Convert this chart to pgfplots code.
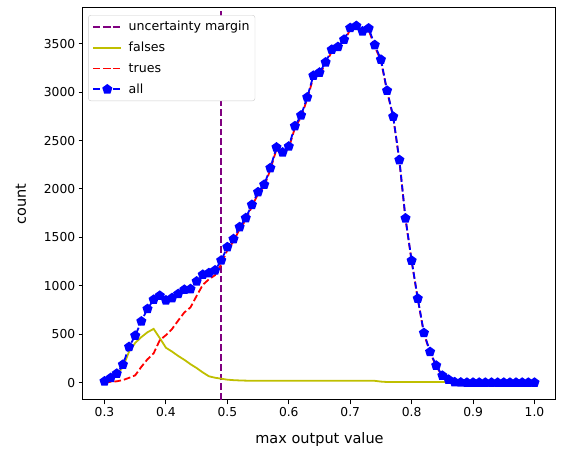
\documentclass[border=0pt]{standalone}
\usepackage{pgfplots}
\usepackage{pgfplotstable}
\pgfplotsset{compat=1.18}
\usepackage{fontspec}
\setmainfont{DejaVu Sans}
\definecolor{mplyellow}{rgb}{0.75,0.75,0}
\definecolor{mplpurple}{rgb}{0.5,0,0.5}
\pgfplotstableread{
x all falses trues
0.30 13 10 3
0.31 48 40 8
0.32 93 80 13
0.33 186 160 26
0.34 369 320 49
0.35 485 410 75
0.36 633 470 163
0.37 761 520 241
0.38 857 555 302
0.39 898 460 438
0.40 850 360 490
0.41 874 320 554
0.42 916 275 641
0.43 960 235 725
0.44 967 190 777
0.45 1046 150 896
0.46 1115 105 1010
0.47 1132 65 1067
0.48 1160 50 1110
0.49 1262 40 1222
0.50 1400 30 1370
0.51 1483 25 1458
0.52 1607 22 1585
0.53 1700 20 1680
0.54 1837 18 1819
0.55 1968 18 1950
0.56 2045 18 2027
0.57 2217 18 2199
0.58 2430 18 2412
0.59 2378 18 2360
0.60 2440 18 2422
0.61 2650 18 2632
0.62 2761 18 2743
0.63 2947 18 2929
0.64 3171 18 3153
0.65 3203 18 3185
0.66 3309 18 3291
0.67 3440 18 3422
0.68 3468 18 3450
0.69 3543 18 3525
0.70 3664 18 3646
0.71 3685 18 3667
0.72 3629 18 3611
0.73 3660 18 3642
0.74 3488 18 3470
0.75 3337 10 3327
0.76 3016 6 3010
0.77 2748 6 2742
0.78 2300 6 2294
0.79 1697 6 1691
0.80 1260 6 1254
0.81 868 6 862
0.82 513 6 507
0.83 317 6 311
0.84 176 6 170
0.85 72 6 66
0.86 31 6 25
0.87 5 3 2
0.88 2 1 1
0.89 0 0 0
0.90 0 0 0
0.91 0 0 0
0.92 0 0 0
0.93 0 0 0
0.94 0 0 0
0.95 0 0 0
0.96 0 0 0
0.97 0 0 0
0.98 0 0 0
0.99 0 0 0
1.00 0 0 0
}\data

\begin{document}
\begin{tikzpicture}
\path[use as bounding box] (-83pt,-52pt) rectangle (479pt,400pt);
\begin{axis}[
  at={(0pt,0pt)}, anchor=south west,
  scale only axis, width=473pt, height=392pt,
  xmin=0.265, xmax=1.035, ymin=-180, ymax=3870,
  xtick={0.3,0.4,0.5,0.6,0.7,0.8,0.9,1.0},
  ytick={0,500,1000,1500,2000,2500,3000,3500},
  xticklabel style={/pgf/number format/.cd,fixed,fixed zerofill,precision=1},
  yticklabel style={/pgf/number format/1000 sep={}},
  /pgf/number format/assume math mode=true,
  ticklabel style={font=\fontsize{12.3}{14}\selectfont},
  tick align=outside, major tick length=4.3pt,
  tick style={black, line width=1pt},
  axis line style={line width=1pt},
  xtick pos=bottom, ytick pos=left,
  xlabel={max output value}, ylabel={count},
  xlabel shift=8pt, ylabel shift=11pt,
  label style={font=\fontsize{14.5}{16}\selectfont},
  legend cell align=left,
  legend style={at={(0.011,0.982)}, anchor=north west,
    draw=black!20, rounded corners=2.5pt, fill=white,
    font=\fontsize{12.6}{15}\selectfont, inner xsep=4pt, inner ysep=4.5pt,
    row sep=7pt,
    nodes={inner sep=1.5pt}},
  legend image code/.code={\draw[mark repeat=2,mark phase=2,#1] plot coordinates {(0pt,0pt) (14pt,0pt) (28pt,0pt)};},
]
\addplot[mplpurple, line width=1.8pt, dash pattern=on 6.8pt off 3pt] coordinates {(0.49,-180) (0.49,3870)};
\addlegendentry{\hspace{5pt}uncertainty margin}
\addplot[mplyellow, line width=1.8pt] table[x=x, y=falses] {\data};
\addlegendentry{\hspace{5pt}falses}
\addplot[red, line width=1.8pt, dash pattern=on 6.8pt off 3pt] table[x=x, y=trues] {\data};
\addlegendentry{\hspace{5pt}trues}
\addplot[blue, line width=1.8pt, dash pattern=on 6.8pt off 3pt, mark=pentagon*, mark size=4.2pt, mark options={solid, fill=blue}] table[x=x, y=all] {\data};
\addlegendentry{\hspace{5pt}all}
\end{axis}
\end{tikzpicture}
\end{document}
